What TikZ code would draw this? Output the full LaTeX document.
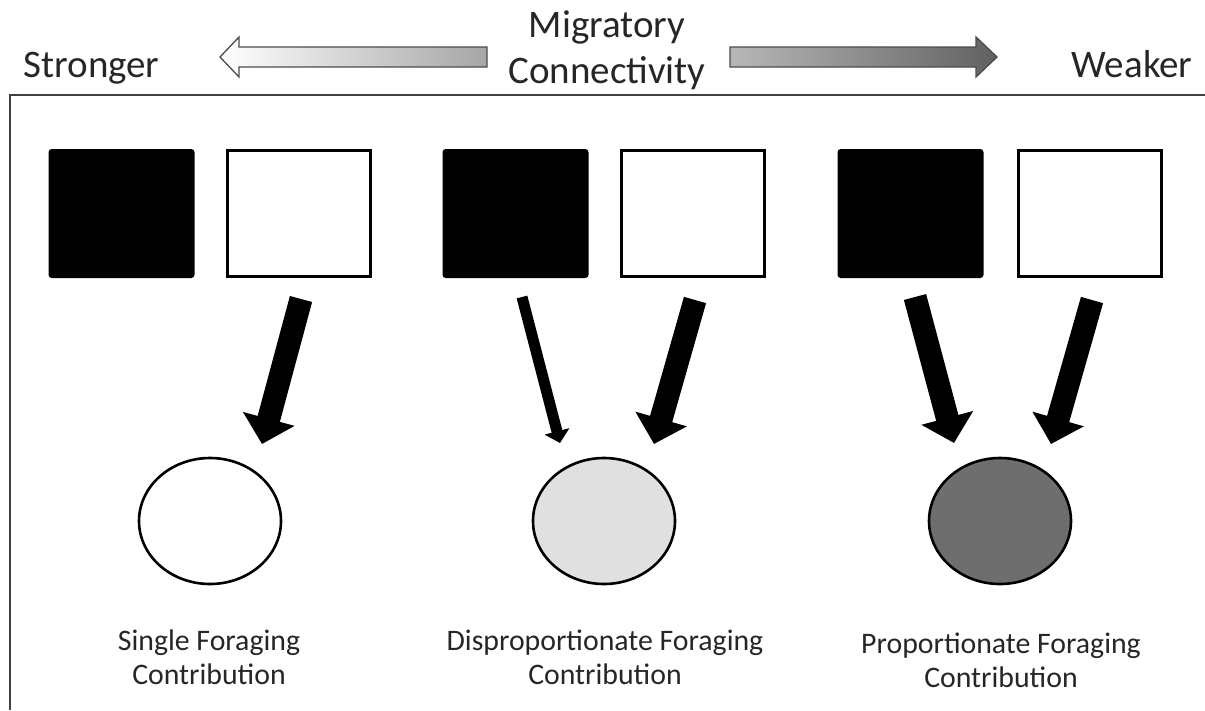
\documentclass[tikz,border=0pt]{standalone}
\usepackage{fontspec}
\setmainfont{Carlito}
\usetikzlibrary{arrows.meta,shapes.geometric}

\tikzset{
  patch/.style={draw=black, line width=3pt, minimum width=143pt, minimum height=126pt, inner sep=0pt},
  blackpatch/.style={patch, fill=black, rounded corners=2pt},
  whitepatch/.style={patch, fill=white},
  site/.style={ellipse, draw=black, line width=2.6pt, minimum width=142pt, minimum height=126pt, inner sep=0pt},
  flow/.style={line width=23pt, -{Triangle[length=26pt,width=52pt]}},
  thinflow/.style={line width=11pt, -{Triangle[length=12pt,width=25pt]}},
  toplabel/.style={font=\fontsize{39}{46}\selectfont, text=black!85},
  caption/.style={font=\fontsize{29.8}{34}\selectfont, align=center, anchor=base, text=black!85}
}

\begin{document}
\begin{tikzpicture}[x=1pt, y=-1pt]

    \useasboundingbox (0,0) rectangle (1205,710);

    % header
    \node[toplabel, anchor=base west] (strong) at (20,77) {Stronger};
    \node[toplabel, anchor=base east] (weak) at (1196,77) {Weaker};
    \node[toplabel, align=center, anchor=base] (mc) at (607,83) {Migratory\\Connectivity};

    \shade[draw=black!70, line width=1.3pt, left color=white, middle color=black!6, right color=black!35]
        (220,57) -- (239,37) -- (239,47) -- (487,47) -- (487,67) -- (239,67) -- (239,77) -- cycle;
    \shade[draw=black!70, line width=1.3pt, left color=black!28, right color=black!62]
        (730,47) -- (976,47) -- (976,37) -- (997,57) -- (976,77) -- (976,67) -- (730,67) -- cycle;

    % frame
    \draw[black!75, line width=1.5pt] (1205,95) -- (10,95) -- (10,710);

    % breeding areas
    \node[blackpatch] (src1a) at (121.5,213.5) {};
    \node[whitepatch] (src1b) at (299,213.5) {};
    \node[blackpatch] (src2a) at (515.5,213.5) {};
    \node[whitepatch] (src2b) at (692.5,213.5) {};
    \node[blackpatch] (src3a) at (910.5,213.5) {};
    \node[whitepatch] (src3b) at (1089.5,213.5) {};

    % foraging areas
    \node[site, fill=white] (site1) at (210,521) {};
    \node[site, fill=black!12] (site2) at (604,521) {};
    \node[site, fill=black!57] (site3) at (1000,521) {};

    % arrow ends
    \coordinate (s1b) at (301,299);
    \coordinate (e1b) at (262,444);
    \coordinate (s2a) at (522,297);
    \coordinate (e2a) at (560,443);
    \coordinate (s2b) at (695,300);
    \coordinate (e2b) at (654,444);
    \coordinate (s3a) at (915,297);
    \coordinate (e3a) at (954,443);
    \coordinate (s3b) at (1092,300);
    \coordinate (e3b) at (1051,444);

    \draw[flow] (s1b) -- (e1b);
    \draw[thinflow] (s2a) -- (e2a);
    \draw[flow] (s2b) -- (e2b);
    \draw[flow] (s3a) -- (e3a);
    \draw[flow] (s3b) -- (e3b);

    % captions
    \node[caption] (cap1) at (209,684) {Single Foraging\\Contribution};
    \node[caption] (cap2) at (605,684) {Disproportionate Foraging\\Contribution};
    \node[caption] (cap3) at (1001,687) {Proportionate Foraging\\Contribution};

\end{tikzpicture}
\end{document}
